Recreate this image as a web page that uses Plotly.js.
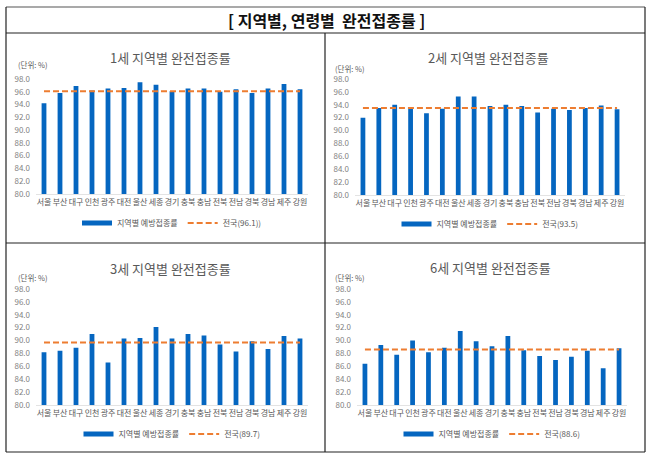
<!DOCTYPE html>
<html>
<head>
<meta charset="utf-8">
<script src="https://cdn.plot.ly/plotly-3.0.1.min.js"></script>
<style>
  html, body { margin: 0; padding: 0; background: #ffffff; }
  #chart { width: 658px; height: 458px; }
</style>
</head>
<body>
<div id="chart"></div>
<script>
// ---- data ----
const categories = ['서울','부산','대구','인천','광주','대전','울산','세종','경기','충북','충남','전북','전남','경북','경남','제주','강원'];
const age1 = [94.2, 95.8, 96.9, 96.2, 96.5, 96.6, 97.5, 97.1, 96.1, 96.5, 96.5, 96.0, 96.4, 95.8, 96.5, 97.2, 96.4];
const age2 = [92.0, 93.5, 94.0, 93.6, 92.7, 93.4, 95.3, 95.3, 93.8, 94.0, 93.8, 92.8, 93.4, 93.2, 93.5, 93.9, 93.3];
const age3 = [88.2, 88.4, 88.9, 91.0, 86.6, 90.3, 90.4, 92.1, 90.3, 91.0, 90.8, 89.4, 88.3, 89.9, 88.7, 90.7, 90.3];
const age6 = [86.4, 89.3, 87.8, 90.0, 88.2, 88.9, 91.5, 89.9, 89.1, 90.7, 88.5, 87.6, 87.0, 87.5, 88.4, 85.7, 88.8];
const nationalAvg = [96.1, 93.5, 89.7, 88.6];
const panelTitles = ['1세 지역별 완전접종률', '2세 지역별 완전접종률', '3세 지역별 완전접종률', '6세 지역별 완전접종률'];
const barName = '지역별 예방접종률';
const nationalNames = ['전국(96.1))', '전국(93.5)', '전국(89.7)', '전국(88.6)'];
const unitLabel = '(단위: %)';
const mainTitle = '[ 지역별, 연령별&nbsp;&nbsp;완전접종률 ]';
const yTicks = [80, 82, 84, 86, 88, 90, 92, 94, 96, 98];

// ---- styling / layout ----
const W = 658, H = 458;
const px = v => v / W;
const py = v => 1 - v / H;
const FONT = '"Noto Sans CJK KR", "Noto Sans", sans-serif';
const GRAY = '#595959';
const BLUE = '#0566C0';
const ORANGE = '#ED7D31';

const seriesList = [age1, age2, age3, age6];
// plot areas in pixels: [left, right, top, bottom]
const areas = [
  [36, 308, 79, 194],
  [355, 625, 79, 195],
  [36, 308, 289, 405],
  [357, 627, 289, 405]
];
const titleY = [58, 57, 268, 267];
const unitPos = [[16, 64], [333, 68], [16, 277], [333, 277]];
const legendY = [223, 224, 434, 434];

const data = [];
const layout = {
  width: W, height: H,
  margin: {l: 0, r: 0, t: 0, b: 0},
  paper_bgcolor: '#ffffff',
  plot_bgcolor: '#ffffff',
  font: {family: FONT, color: GRAY, size: 9},
  bargap: 0.7,
  showlegend: true,
  annotations: [],
  shapes: []
};

seriesList.forEach((vals, i) => {
  const n = i === 0 ? '' : String(i + 1);
  const xa = 'x' + n, ya = 'y' + n;
  const lg = i === 0 ? 'legend' : 'legend' + (i + 1);
  const [l, r, t, b] = areas[i];

  data.push({
    type: 'bar', x: categories, y: vals, xaxis: xa, yaxis: ya,
    marker: {color: BLUE}, name: barName, showlegend: false, hoverinfo: 'x+y'
  });
  // legend-only entry with a flat swatch like the original
  data.push({
    type: 'scatter', mode: 'lines', x: [null], y: [null], xaxis: xa, yaxis: ya,
    line: {color: BLUE, width: 5}, name: barName, legend: lg, showlegend: true
  });
  data.push({
    type: 'scatter', mode: 'lines', x: categories, y: categories.map(() => nationalAvg[i]),
    xaxis: xa, yaxis: ya, name: nationalNames[i], legend: lg,
    line: {color: ORANGE, width: 2, dash: '6px,3px'}, hoverinfo: 'y'
  });

  layout['xaxis' + n] = {
    domain: [px(l), px(r)], anchor: ya, type: 'category',
    range: [-0.5, categories.length - 0.5],
    showgrid: false, zeroline: false, showline: true, linecolor: '#e3e3e3', linewidth: 1,
    ticks: '', tickangle: 0, tickfont: {family: FONT, size: 8, color: GRAY},
    fixedrange: true
  };
  layout['yaxis' + n] = {
    domain: [py(b), py(t)], anchor: xa, range: [80, 98],
    tickvals: yTicks, tickformat: '.1f',
    showgrid: false, zeroline: false, showline: false, ticks: '',
    ticklabelstandoff: 5,
    tickfont: {family: FONT, size: 8, color: '#7f7f7f'},
    fixedrange: true
  };
  layout[lg] = {
    orientation: 'h', x: px((l + r) / 2), y: py(legendY[i]),
    xanchor: 'center', yanchor: 'middle',
    font: {family: FONT, size: 8, color: GRAY},
    bgcolor: 'rgba(0,0,0,0)', itemwidth: 30, tracegroupgap: 0
  };
  layout.annotations.push({
    text: panelTitles[i], xref: 'paper', yref: 'paper',
    x: px((l + r) / 2 - 2), y: py(titleY[i]), xanchor: 'center', yanchor: 'middle',
    showarrow: false, font: {family: FONT, size: 13, color: GRAY}
  });
  layout.annotations.push({
    text: unitLabel, xref: 'paper', yref: 'paper',
    x: px(unitPos[i][0]), y: py(unitPos[i][1]), xanchor: 'left', yanchor: 'middle',
    showarrow: false, font: {family: FONT, size: 7.5, color: GRAY}
  });
});

layout.annotations.push({
  text: '<b>' + mainTitle + '</b>', xref: 'paper', yref: 'paper',
  x: px(326), y: py(20), xanchor: 'center', yanchor: 'middle',
  showarrow: false, font: {family: FONT, size: 16, color: '#111111'}
});

// table frame
const frame = (x0, y0, x1, y1, color, w) => ({
  type: 'line', xref: 'paper', yref: 'paper',
  x0: px(x0), y0: py(y0), x1: px(x1), y1: py(y1),
  line: {color: color, width: w}, layer: 'below'
});
layout.shapes.push(frame(6, 7, 645, 7, '#8c8c8c', 1.5));
layout.shapes.push(frame(6, 7, 6, 452, '#222222', 1.2));
layout.shapes.push(frame(645, 7, 645, 452, '#222222', 1.2));
layout.shapes.push(frame(6, 452, 645, 452, '#222222', 1.2));
layout.shapes.push(frame(6, 33, 645, 33, '#222222', 1.2));
layout.shapes.push(frame(325, 33, 325, 452, '#222222', 1.2));
layout.shapes.push(frame(6, 243, 645, 243, '#222222', 1.2));

Plotly.newPlot('chart', data, layout, {displayModeBar: false, staticPlot: true});
</script>
</body>
</html>
